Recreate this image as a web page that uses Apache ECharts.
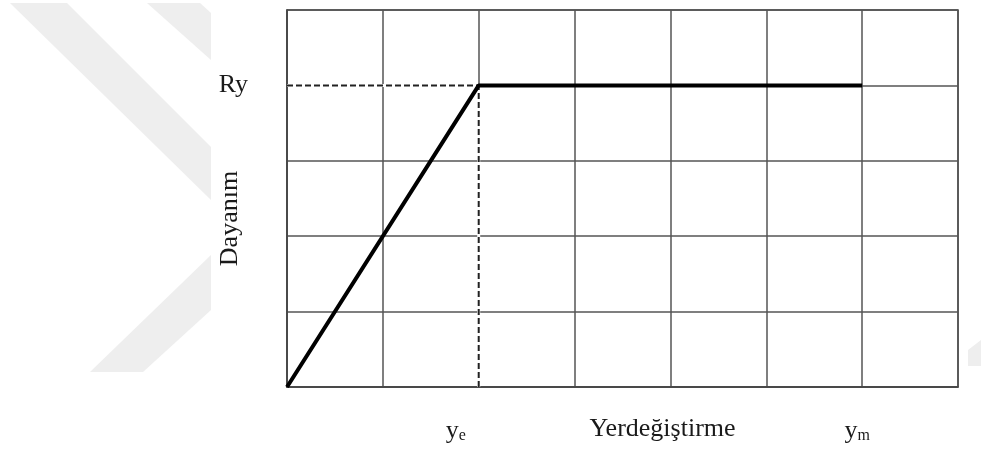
<!DOCTYPE html>
<html>
<head>
<meta charset="utf-8">
<script src="https://cdn.jsdelivr.net/npm/echarts@6/dist/echarts.min.js"></script>
<style>
  html, body { margin: 0; padding: 0; background: #fff; }
  #main { width: 981px; height: 450px; }
</style>
</head>
<body>
<div id="main"></div>
<script>
// values
const ye = 2;          // yield displacement
const ym = 6;          // max displacement
const ry = 4;          // yield strength
const curveX = [0, ye, ym];
const curveY = [0, ry, ry];
const xTicks = { 2: 'ye', 6: 'ym' };
const yTicks = { 4: 'Ry' };

const chart = echarts.init(document.getElementById('main'));
const serif = 'Liberation Serif';
const gridColor = '#555';

// faint watermark in the background
const wm = '#eeeeee';
const watermark = [
  [[10, 3], [67, 3], [211, 147], [211, 200]],
  [[147, 3], [200, 3], [211, 13], [211, 60]],
  [[211, 255], [211, 310], [143, 372], [90, 372]],
  [[968, 350], [981, 340], [981, 366], [968, 366]]
].map(pts => ({
  type: 'polygon', z: -10, silent: true,
  shape: { points: pts },
  style: { fill: wm }
}));

const option = {
  animation: false,
  backgroundColor: '#fff',
  graphic: watermark,
  grid: {
    left: 287, right: 23, top: 10, bottom: 63,
    outerBoundsMode: 'none', containLabel: false,
    show: true, borderColor: '#444', borderWidth: 1.5
  },
  xAxis: {
    type: 'value', min: 0, max: 7, interval: 1,
    name: 'Yerdeğiştirme', nameLocation: 'middle', nameGap: 29, nameMoveOverlap: false,
    nameTextStyle: { fontFamily: serif, fontSize: 26, color: '#1a1a1a', padding: [0, 0, 0, 80] },
    axisLine: { show: true, lineStyle: { color: '#444', width: 1.5 } },
    axisTick: { show: false },
    splitLine: { show: true, lineStyle: { color: gridColor, width: 1.5 } },
    axisLabel: {
      margin: 31,
      formatter: v => {
        const t = xTicks[v];
        if (!t) return '';
        return '{b|' + t[0] + '}{' + (t === 'ye' ? 's1' : 's2') + '|' + t.slice(1) + '}';
      },
      rich: {
        b: { fontFamily: serif, fontSize: 26, color: '#1a1a1a', verticalAlign: 'bottom' },
        s1: { fontFamily: serif, fontSize: 16, color: '#1a1a1a', verticalAlign: 'bottom', padding: [0, 46, 0, 0] },
        s2: { fontFamily: serif, fontSize: 16, color: '#1a1a1a', verticalAlign: 'bottom', padding: [0, 10, 0, 0] }
      }
    }
  },
  yAxis: {
    type: 'value', min: 0, max: 5, interval: 1,
    name: 'Dayanım', nameLocation: 'middle', nameGap: 44, nameRotate: 90, nameMoveOverlap: false,
    nameTextStyle: { fontFamily: serif, fontSize: 26, color: '#1a1a1a', padding: [0, 40, 0, 0] },
    axisLine: { show: true, lineStyle: { color: '#444', width: 1.5 } },
    axisTick: { show: false },
    splitLine: { show: true, lineStyle: { color: gridColor, width: 1.5 } },
    axisLabel: {
      margin: 39,
      fontFamily: serif, fontSize: 26, color: '#1a1a1a',
      padding: [0, 0, 18, 0],
      formatter: v => yTicks[v] || ''
    }
  },
  series: [
    // white underlay so the guides read as dashed over the grid
    {
      type: 'line', symbol: 'none', silent: true, z: 2,
      lineStyle: { color: '#fff', width: 3 },
      data: [[curveX[0], ry], [ye, ry]]
    },
    {
      type: 'line', symbol: 'none', silent: true, z: 2,
      lineStyle: { color: '#fff', width: 3 },
      data: [[ye, 0], [ye, ry]]
    },
    {
      type: 'line', symbol: 'none', silent: true, z: 3,
      lineStyle: { color: '#222', width: 2, type: [6, 3] },
      data: [[curveX[0], ry], [ye, ry]]
    },
    {
      type: 'line', symbol: 'none', silent: true, z: 3,
      lineStyle: { color: '#222', width: 2, type: [6, 3] },
      data: [[ye, 0], [ye, ry]]
    },
    {
      type: 'line', symbol: 'none', silent: true, z: 4,
      lineStyle: { color: '#000', width: 4 },
      data: curveX.map((x, i) => [x, curveY[i]])
    }
  ]
};

chart.setOption(option);
</script>
</body>
</html>
